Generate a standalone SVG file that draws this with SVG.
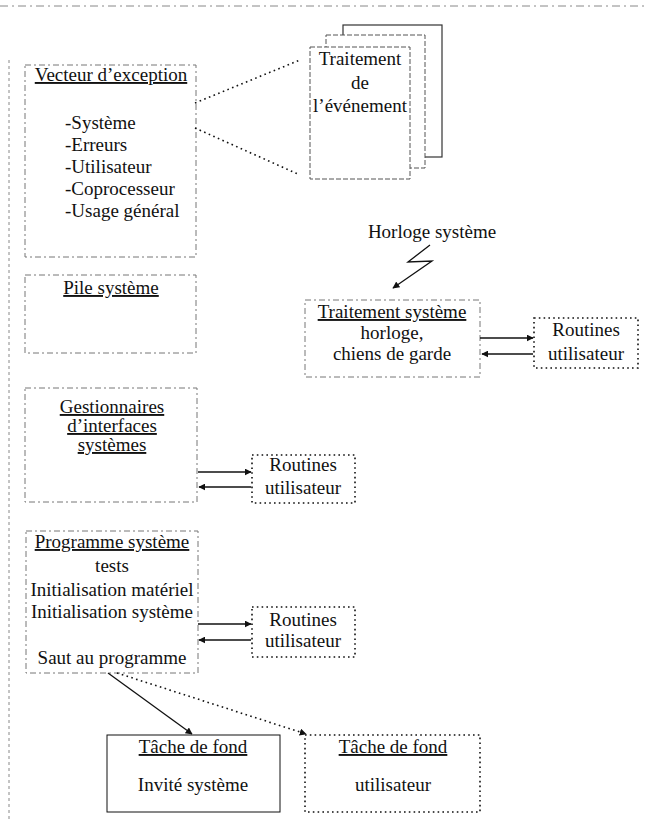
<svg xmlns="http://www.w3.org/2000/svg" width="645" height="819" viewBox="0 0 645 819">
<defs>
<marker id="ah" viewBox="0 0 10 10" refX="9" refY="5" markerWidth="7" markerHeight="7" orient="auto" markerUnits="userSpaceOnUse"><path d="M0,0 L10,5 L0,10 Z" fill="#111"/></marker>
<style>
text{font-family:"Liberation Serif","Times New Roman",serif;font-size:19px;fill:#111}
.c{text-anchor:middle}
.u{text-decoration:underline}
.faint{fill:none;stroke:#777;stroke-width:1;stroke-dasharray:6 3 2 3}
.dot{fill:#fff;stroke:#111;stroke-width:1.6;stroke-dasharray:1.6 3.2}
.solid{fill:#fff;stroke:#111;stroke-width:1}
.page{fill:#fff;stroke:#333;stroke-width:1.2}
.pagef{fill:#fff;stroke:#555;stroke-width:1;stroke-dasharray:5 2}
.ln{stroke:#111;stroke-width:1.3;fill:none}
.dl{stroke:#111;stroke-width:1.6;fill:none;stroke-dasharray:1.6 3.4}
</style>
</defs>
<g id="page-border">
<line x1="0" y1="6" x2="645" y2="6" stroke="#888" stroke-width="1" stroke-dasharray="8 4 2 4"/>
<line x1="9" y1="60" x2="9" y2="819" stroke="#888" stroke-width="1" stroke-dasharray="3 3"/>
</g>
<g id="vecteur">
<rect class="faint" x="25" y="65" width="171" height="192"/>
<text class="c u" x="111" y="81">Vecteur d’exception</text>
<text x="65" y="129">-Système</text>
<text x="65" y="151">-Erreurs</text>
<text x="65" y="173">-Utilisateur</text>
<text x="65" y="195">-Coprocesseur</text>
<text x="65" y="217">-Usage général</text>
</g>
<g id="traitement-evenement">
<rect class="page" x="343" y="25" width="99" height="132"/>
<rect class="pagef" x="326" y="35" width="99" height="133"/>
<rect class="pagef" x="310" y="47" width="100" height="132"/>
<text class="c" x="360" y="65">Traitement</text>
<text class="c" x="360" y="89">de</text>
<text class="c" x="360" y="112">l’événement</text>
</g>
<g id="pile">
<rect class="faint" x="25" y="275" width="171" height="78"/>
<text class="c u" x="111" y="294">Pile système</text>
</g>
<g id="horloge">
<text class="c" x="432" y="238">Horloge système</text>
</g>
<g id="traitement-systeme">
<rect class="faint" x="305" y="300" width="175" height="77"/>
<text class="c u" x="392" y="318">Traitement système</text>
<text class="c" x="392" y="339">horloge,</text>
<text class="c" x="392" y="360">chiens de garde</text>
</g>
<g id="routines-1">
<rect class="dot" x="534" y="318" width="104" height="50"/>
<text class="c" x="586" y="336">Routines</text>
<text class="c" x="586" y="360">utilisateur</text>
</g>
<g id="gestionnaires">
<rect class="faint" x="25" y="388" width="172" height="114"/>
<text class="c u" x="112" y="413">Gestionnaires</text>
<text class="c u" x="112" y="432">d’interfaces</text>
<text class="c u" x="112" y="451">systèmes</text>
</g>
<g id="routines-2">
<rect class="dot" x="252" y="455" width="103" height="48"/>
<text class="c" x="303" y="471">Routines</text>
<text class="c" x="303" y="494">utilisateur</text>
</g>
<g id="programme">
<rect class="faint" x="26" y="531" width="172" height="142"/>
<text class="c u" x="112" y="548">Programme système</text>
<text class="c" x="112" y="572">tests</text>
<text class="c" x="112" y="596">Initialisation matériel</text>
<text class="c" x="112" y="618">Initialisation système</text>
<text class="c" x="112" y="664">Saut au programme</text>
</g>
<g id="routines-3">
<rect class="dot" x="252" y="607" width="103" height="50"/>
<text class="c" x="303" y="626">Routines</text>
<text class="c" x="303" y="647">utilisateur</text>
</g>
<g id="tache-systeme">
<rect class="solid" x="107" y="735" width="173" height="77"/>
<text class="c u" x="193" y="753">Tâche de fond</text>
<text class="c" x="193" y="791">Invité système</text>
</g>
<g id="tache-utilisateur">
<rect class="dot" x="305" y="735" width="175" height="77"/>
<text class="c u" x="393" y="753">Tâche de fond</text>
<text class="c" x="393" y="791">utilisateur</text>
</g>
<g id="connectors">
<line class="dl" x1="195" y1="103" x2="300" y2="60"/>
<line class="dl" x1="195" y1="128" x2="300" y2="175"/>
<polyline class="ln" points="430,245 408,262 432,261 393,288" marker-end="url(#ah)"/>
<line class="ln" x1="480" y1="338" x2="533" y2="338" marker-end="url(#ah)"/>
<line class="ln" x1="533" y1="354" x2="482" y2="354" marker-end="url(#ah)"/>
<line class="ln" x1="198" y1="472" x2="251" y2="472" marker-end="url(#ah)"/>
<line class="ln" x1="251" y1="487" x2="199" y2="487" marker-end="url(#ah)"/>
<line class="ln" x1="198" y1="624" x2="251" y2="624" marker-end="url(#ah)"/>
<line class="ln" x1="251" y1="640" x2="199" y2="640" marker-end="url(#ah)"/>
<line class="ln" x1="108" y1="673" x2="192" y2="734" marker-end="url(#ah)"/>
<line class="dl" x1="117" y1="673" x2="306" y2="734" marker-end="url(#ah)"/>
</g>
</svg>
